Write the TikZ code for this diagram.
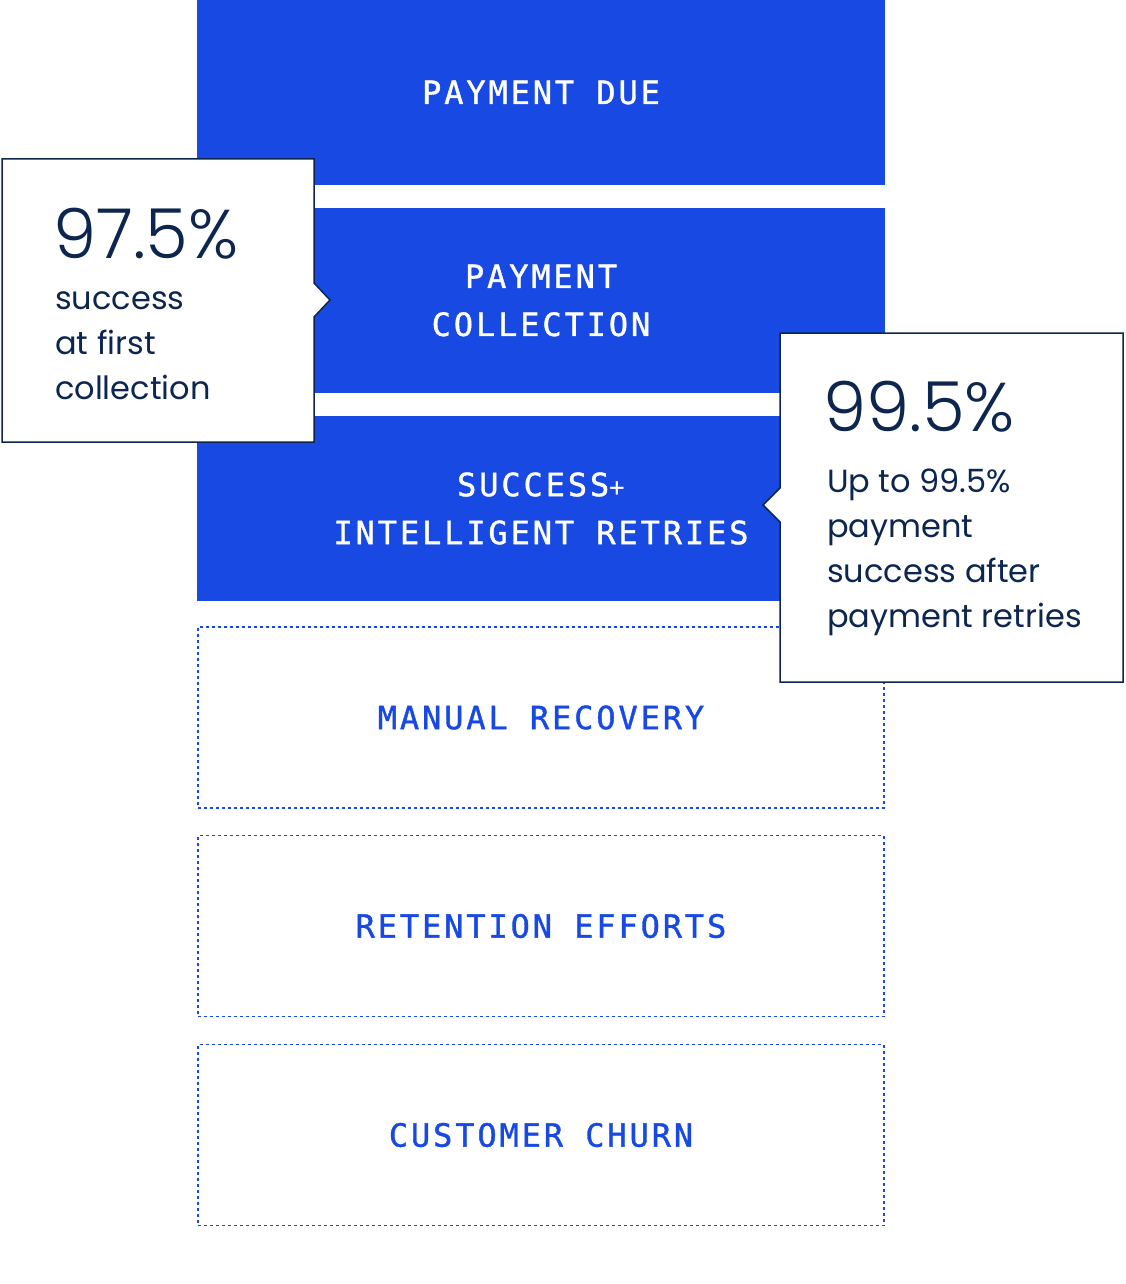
\documentclass[tikz,border=0pt]{standalone}
\usepackage{fontspec}
\setmainfont{Poppins}
\newfontfamily\monofont[LetterSpace=9,FakeBold=1.2]{DejaVu Sans Mono}
\newfontfamily\monoplain[LetterSpace=9]{DejaVu Sans Mono}
\newfontfamily\callfont{Poppins}
\newfontfamily\numfont{Poppins Light}
\definecolor{gcblue}{RGB}{24,74,227}
\definecolor{gcnavy}{RGB}{12,38,80}
\tikzset{
  bluebox/.style={fill=gcblue, draw=none, minimum width=688pt, minimum height=185pt, inner sep=0pt,
    text=white, align=center, font=\monofont\fontsize{32}{48}\selectfont},
  dotbox/.style={draw=gcblue, line width=1.6pt, dash pattern=on 3pt off 3pt, minimum width=686pt, minimum height=181pt, inner sep=0pt,
    text=gcblue, align=center, font=\monofont\fontsize{32}{48}\selectfont},
  callout/.style={fill=white, draw=gcnavy, line width=1.5pt, line join=miter},
  bignum/.style={anchor=base west, inner sep=0pt, text=gcnavy, font=\numfont\fontsize{69}{80}\selectfont},
  calltext/.style={anchor=base west, inner sep=0pt, text=gcnavy, align=left, font=\callfont\fontsize{32}{45}\selectfont},
}
\begin{document}
\begin{tikzpicture}[x=1pt,y=-1pt]
\useasboundingbox (0,0) rectangle (1125,1284);
% blue boxes
\node[bluebox] (due) at (541,92.5) {PAYMENT DUE};
\node[bluebox] (coll) at (541,300.5) {PAYMENT\\COLLECTION};
\node[bluebox] (retry) at (541,508.5) {SUCCESS{\monoplain\fontsize{26}{48}\selectfont +}\\INTELLIGENT RETRIES};
% dotted boxes
\node[dotbox] (manual) at (541,717.5) {MANUAL RECOVERY};
\node[dotbox] (retention) at (541,926) {RETENTION EFFORTS};
\node[dotbox] (churn) at (541,1135) {CUSTOMER CHURN};
% callout 1
\coordinate (c1tip) at (330,300);
\draw[callout] (2,159) -- (314,159) -- (314,283) -- (c1tip) -- (314,317) -- (314,442) -- (2,442) -- cycle;
\node[bignum] (n1) at (53,258) {97.5\%};
\node[calltext] (t1) at (55,399) {success\\at first\\collection};
% callout 2
\coordinate (c2tip) at (763,505);
\draw[callout] (780,333) -- (1123,333) -- (1123,682) -- (780,682) -- (780,522) -- (c2tip) -- (780,488) -- cycle;
\node[bignum] (n2) at (823,431) {99.5\%};
\node[calltext] (t2) at (827,627) {Up to 99.5\%\\payment\\success after\\payment retries};
\end{tikzpicture}
\end{document}
